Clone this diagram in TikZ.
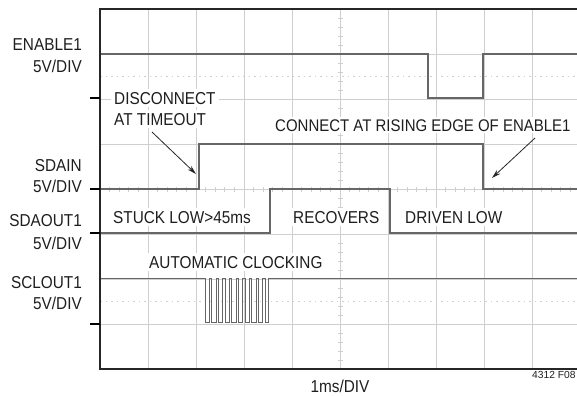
\documentclass[tikz,border=0pt]{standalone}
\usepackage{fontspec}
\setmainfont{Liberation Sans}[FakeStretch=0.89]
\newfontfamily\plainsans{Liberation Sans}
\usetikzlibrary{arrows.meta}
\definecolor{gridgray}{HTML}{CFCFCF}
\definecolor{tracegray}{HTML}{666666}
\definecolor{txt}{HTML}{1E1E1E}
\begin{document}
\begin{tikzpicture}[x=1bp,y=-1bp,
  gridline/.style={draw=gridgray, line width=0.8bp},
  dotline/.style={draw=gridgray, line width=1bp, dash pattern=on 1.5bp off 4bp},
  trace/.style={draw=tracegray, line width=1.3bp},
  frame/.style={draw=black!85, line width=1.4bp},
  gnd/.style={draw=black, line width=2.4bp},
  side/.style={font=\fontsize{17.3}{17}\selectfont, text=txt, inner sep=0pt, anchor=base east},
  lbl/.style={font=\fontsize{17.3}{17}\selectfont, text=txt, fill=white, inner sep=3bp, anchor=base west},
  arr/.style={draw=black!85, line width=0.8bp, -{Stealth[length=9bp,width=5bp]}}]
\useasboundingbox (0,0) rectangle (577,395);
% grid
\foreach \i in {1,...,9} \draw[gridline] (100+48*\i,9) -- (100+48*\i,369);
\foreach \j in {1,...,7} \draw[gridline] (100,9+45*\j) -- (577,9+45*\j);
\draw[dotline] (100,76.5) -- (577,76.5);
\draw[dotline] (100,301.5) -- (577,301.5);
% center ticks
\foreach \k in {0,...,40} \draw[gridgray, line width=0.8bp] (337.5,9+9*\k) -- (342.5,9+9*\k);
\foreach \k in {0,...,50} \draw[gridgray, line width=0.8bp] (100+9.6*\k,186.5) -- (100+9.6*\k,191.5);
% labels
\node[lbl] (disc1) at (111,104) {DISCONNECT};
\node[lbl] (disc2) at (111,125) {AT TIMEOUT};
\node[lbl, font=\fontsize{16.9}{17}\selectfont, inner sep=2bp] (conn) at (273,131) {CONNECT AT RISING EDGE OF ENABLE1};
\node[lbl] (stuck) at (110,223) {STUCK LOW>45ms};
\node[lbl] (recov) at (290,223) {RECOVERS};
\node[lbl] (driven) at (402,223) {DRIVEN LOW};
\node[lbl] (auto) at (146,268) {AUTOMATIC CLOCKING};
% traces
\draw[trace] (100,54) -- (428,54) -- (428,98) -- (483,98) -- (483,54) -- (577,54);
\draw[trace] (100,189) -- (199,189) -- (199,144) -- (483,144) -- (483,189) -- (577,189);
\draw[trace] (100,233) -- (270,233) -- (270,189) -- (390,189) -- (390,233) -- (577,233);
\draw[trace, line width=1bp] (100,278) -- (205,278) -- (205,322)
  \foreach \i in {1,...,9}{ -- ++(4.3,0) -- ++(0,-44) -- ++(2.4,0) -- ++(0,44)}
  -- (268,322) -- (268,278) -- (577,278);
% frame
\draw[frame] (577,9) -- (100,9) -- (100,369) -- (577,369);
\draw[gnd] (90,98) -- (100,98);
\draw[gnd] (90,189) -- (100,189);
\draw[gnd] (90,233) -- (100,233);
\draw[gnd] (90,324) -- (100,324);
% side labels
\node[side] (en) at (82,50.5) {ENABLE1};
\node[side] (en2) at (82,72) {5V/DIV};
\node[side] (sdain) at (82,171) {SDAIN};
\node[side] (sdain2) at (82,192) {5V/DIV};
\node[side] (sdaout) at (82,226) {SDAOUT1};
\node[side] (sdaout2) at (82,249) {5V/DIV};
\node[side] (sclout) at (82,288) {SCLOUT1};
\node[side] (sclout2) at (82,309) {5V/DIV};
% arrows
\coordinate (a1s) at (152,132);
\coordinate (a1e) at (196,174);
\coordinate (a2s) at (535,138);
\coordinate (a2e) at (492,178);
\draw[arr] (a1s) -- (a1e);
\draw[arr] (a2s) -- (a2e);
% bottom
\node[side, anchor=base] (tb) at (340,392) {1ms/DIV};
\node[font=\plainsans\fontsize{10.3}{10.3}\selectfont, text=txt, inner sep=0pt, anchor=base west] (fig) at (532,378) {4312 F08};
\end{tikzpicture}
\end{document}
